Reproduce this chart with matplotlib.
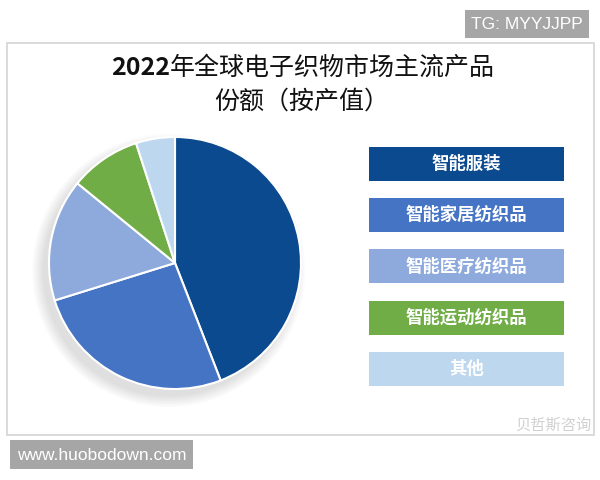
import matplotlib
matplotlib.use('Agg')
import matplotlib.pyplot as plt
from matplotlib.patches import Rectangle, Circle

plt.rcParams['font.family'] = ['Noto Sans CJK SC', 'DejaVu Sans']

title_year = '2022'
title_lines = ['年全球电子织物市场主流产品', '份额（按产值）']
labels = ['智能服装', '智能家居纺织品', '智能医疗纺织品', '智能运动纺织品', '其他']
shares = [44.1, 26.1, 15.7, 9.1, 5.0]
colors = ['#0b4a8e', '#4674c4', '#8eaadc', '#70ad47', '#bdd7ee']

W, H = 600, 480
fig = plt.figure(figsize=(6, 4.8), dpi=100)

# overlay axes in pixel coordinates (y down)
bg = fig.add_axes([0, 0, 1, 1], zorder=0)
bg.set_xlim(0, W)
bg.set_ylim(H, 0)
bg.axis('off')

# outer frame
bg.add_patch(Rectangle((7, 43), 587, 392, facecolor='white', edgecolor='#d4d4d4', lw=1.2))

# title: bold year, then the rest
t_year = bg.text(111, 68, title_year, ha='left', va='center', fontsize=18,
                 fontweight='bold', color='#111111')
bg.annotate(title_lines[0], xy=(1, 0.5), xycoords=t_year, ha='left', va='center',
            fontsize=18, color='#111111')
bg.text(302, 102, title_lines[1], ha='center', va='center', fontsize=18, color='#111111')

# legend boxes
for i, (lab, col) in enumerate(zip(labels, colors)):
    y0 = 147 + i * 51.2
    bg.add_patch(Rectangle((369, y0), 195, 34, facecolor=col, edgecolor='none'))
    bg.text(466.5, y0 + 17, lab, ha='center', va='center', fontsize=12.5,
            fontweight='bold', color='white')

# watermark bottom right
bg.text(591, 425, '贝哲斯咨询', ha='right', va='center', fontsize=11, color='#d0d0d0')

# top-right tag
bg.add_patch(Rectangle((465, 10), 124, 28, facecolor='#a6a6a6', edgecolor='none'))
bg.text(527, 24.5, 'TG: MYYJJPP', ha='center', va='center', fontsize=12.5,
        color='white', family=['Liberation Sans', 'DejaVu Sans'])

# bottom-left tag
bg.add_patch(Rectangle((10, 440), 183, 29, facecolor='#a6a6a6', edgecolor='none'))
bg.text(101.5, 455, 'www.huobodown.com', ha='center', va='center', fontsize=12.5,
        color='white', family=['Liberation Sans', 'DejaVu Sans'])

# pie axes
cx, cy, r = 175, 263, 126
half = 145
ax = fig.add_axes([(cx - half) / W, 1 - (cy + half) / H, 2 * half / W, 2 * half / H], zorder=1)
ax.set_facecolor('none')

# soft shadow, offset to lower left
for k in range(8):
    ax.add_patch(Circle((-0.05, -0.06), 1.0 + 0.012 * k, facecolor='#000000',
                        alpha=0.016, edgecolor='none'))

ax.pie(shares, colors=colors, startangle=90, counterclock=False, radius=1.0,
       wedgeprops=dict(edgecolor='white', linewidth=1.5))
lim = half / r
ax.set_xlim(-lim, lim)
ax.set_ylim(-lim, lim)
ax.set_aspect('equal')
ax.axis('off')

fig.savefig('out.png', dpi=100, facecolor='white')
